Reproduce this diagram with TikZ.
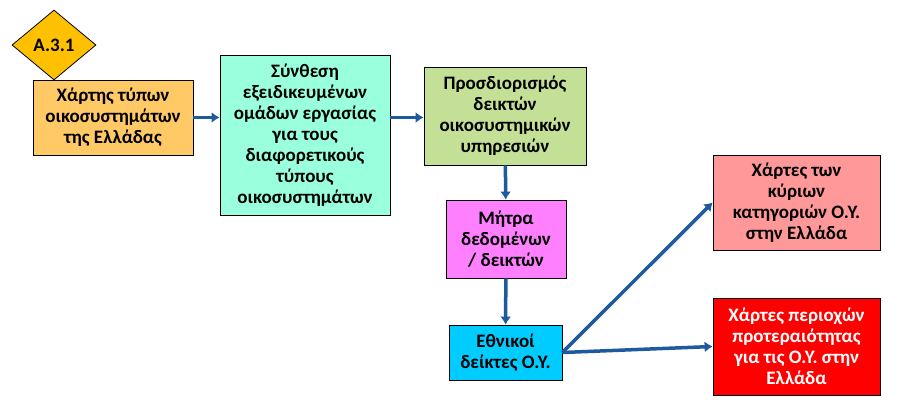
\documentclass[tikz,border=0pt]{standalone}
\usepackage{fontspec}
\setmainfont{Carlito}
\usetikzlibrary{arrows.meta,shapes.geometric}
\definecolor{arrowblue}{HTML}{1F5A9E}
\tikzset{>={Latex[width=11pt,length=8pt]}}
\tikzset{stepbox/.style={draw, thick, align=center, inner sep=2pt, font=\bfseries\fontsize{19}{21}\selectfont}}
\tikzset{link/.style={draw=arrowblue, line width=3.5pt, ->}}

\begin{document}
\begin{tikzpicture}[x=1pt,y=-1pt]
	\useasboundingbox (0,0) rectangle (903,407);
	\node (MAP) [stepbox, fill={rgb,255:red,255;green,201;blue,102}, minimum width=160, minimum height=75] at (113,117.5) {Χάρτης τύπων\\οικοσυστημάτων\\της Ελλάδας};
	\node (ID) [draw, thick, diamond, fill={rgb,255:red,255;green,192;blue,0}, minimum width=84, minimum height=70, inner sep=0, font=\bfseries\fontsize{19}{21}\selectfont] at (54,45) {Α.3.1};
	\node (SYN) [stepbox, fill={rgb,255:red,153;green,255;blue,221}, minimum width=170, minimum height=160] at (305,135) {Σύνθεση\\εξειδικευμένων\\ομάδων εργασίας\\για τους\\διαφορετικούς\\τύπους\\οικοσυστημάτων};
	\node (DEF) [stepbox, fill={rgb,255:red,196;green,224;blue,150}, minimum width=162, minimum height=98] at (505,116) {Προσδιορισμός\\δεικτών\\οικοσυστημικών\\υπηρεσιών};
	\node (MAT) [stepbox, fill={rgb,255:red,255;green,128;blue,255}, minimum width=120, minimum height=78] at (506,239) {Μήτρα\\δεδομένων\\/ δεικτών};
	\node (NAT) [stepbox, fill={rgb,255:red,0;green,204;blue,255}, minimum width=113, minimum height=55] at (505.5,352.5) {Εθνικοί\\δείκτες Ο.Υ.};
	\node (CAT) [stepbox, fill={rgb,255:red,255;green,153;blue,153}, minimum width=167, minimum height=95] at (796.5,202.5) {Χάρτες των\\κύριων\\κατηγοριών Ο.Υ.\\στην Ελλάδα};
	\node (PRI) [stepbox, fill=red, text=white, minimum width=167, minimum height=97] at (796.5,346.5) {Χάρτες περιοχών\\προτεραιότητας\\για τις Ο.Υ. στην\\Ελλάδα};

	\path [link] (MAP) -- (SYN.west |- MAP.east);
	\path [link] (SYN.east |- MAP.east) -- (DEF.west |- MAP.east);
	\path [link] (DEF) -- (MAT);
	\path [link] (MAT) -- (NAT);
	\path [link] (NAT.east) -- (CAT.west);
	\path [link] (NAT.east) -- (PRI.west);
\end{tikzpicture}
\end{document}
